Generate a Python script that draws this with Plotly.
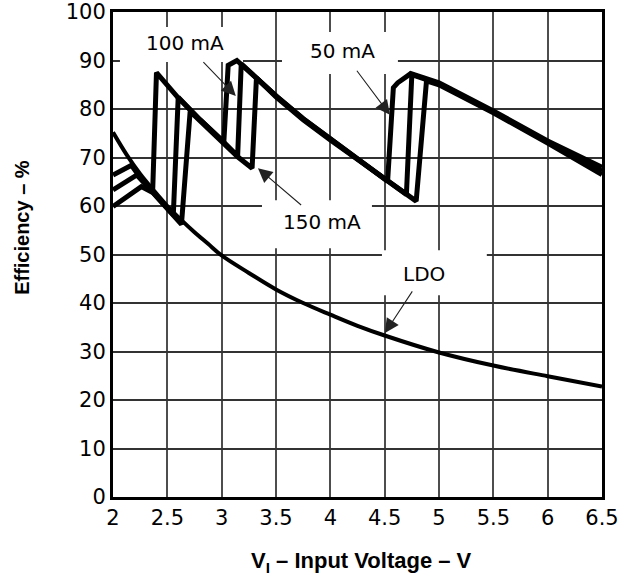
import plotly.graph_objects as go

# ---- data ----
v_50 = [2.0, 2.17, 2.26, 2.365, 2.40, 2.6, 2.8, 3.0, 3.02, 3.06, 3.14, 3.3, 3.5, 3.75, 4.0, 4.25,
        4.527, 4.58, 4.62, 4.74, 5.0, 5.5, 6.0, 6.5]
e_50 = [66.4, 68.4, 65.6, 63.0, 87.5, 82.3, 77.8, 73.6, 73.2, 89.0, 90.0, 86.8, 82.7, 78.0, 73.8, 69.8,
        65.1, 84.4, 85.4, 87.3, 85.4, 79.6, 73.4, 68.0]

v_100 = [2.0, 2.22, 2.365, 2.555, 2.60, 2.8, 3.0, 3.147, 3.18, 3.3, 3.5, 3.75, 4.0, 4.25, 4.5,
         4.70, 4.75, 5.0, 5.5, 6.0, 6.5]
e_100 = [63.3, 66.4, 62.9, 58.2, 82.4, 77.8, 73.6, 70.3, 89.3, 86.8, 82.7, 78.0, 73.8, 69.8, 65.6,
         62.4, 87.1, 85.2, 79.4, 73.2, 67.2]

v_150 = [2.0, 2.26, 2.365, 2.555, 2.63, 2.71, 2.8, 3.0, 3.15, 3.28, 3.32, 3.5, 3.75, 4.0, 4.25, 4.5,
         4.79, 4.885, 5.0, 5.5, 6.0, 6.5]
e_150 = [59.9, 64.0, 62.8, 58.1, 56.2, 79.5, 77.6, 73.4, 70.1, 67.8, 86.4, 82.5, 77.8, 73.6, 69.6, 65.4,
         61.0, 85.8, 85.0, 79.2, 73.0, 66.5]

v_ldo = [2.0, 2.125, 2.25, 2.375, 2.5, 2.625, 2.75, 2.875, 3.0, 3.25, 3.5, 3.75, 4.0, 4.25, 4.5,
         5.0, 5.5, 6.0, 6.5]
e_ldo = [75.2, 70.6, 66.6, 63.2, 60.0, 57.2, 54.6, 52.2, 49.8, 46.2, 42.8, 40.0, 37.6, 35.3, 33.3,
         29.8, 27.1, 24.9, 22.8]

x_ticks = [2, 2.5, 3, 3.5, 4, 4.5, 5, 5.5, 6, 6.5]
x_tick_text = ["2", "2.5", "3", "3.5", "4", "4.5", "5", "5.5", "6", "6.5"]
y_ticks = [0, 10, 20, 30, 40, 50, 60, 70, 80, 90, 100]

label_text = ["100 mA", "50 mA", "150 mA", "LDO"]
label_pos = [(2.66, 93.7), (4.11, 91.9), (3.92, 56.6), (4.86, 46.0)]
label_pad = [7, 7, 5, 5]
label_box = [(2.064, 3.196, 89.7, 96.9), (3.555, 4.622, 87.2, 95.9),
             (3.371, 4.383, 51.3, 61.2), (4.475, 5.44, 41.6, 50.9)]
arrow_tip = [(3.13, 82.7), (4.548, 78.8), (3.334, 67.8), (4.502, 33.8)]

fig = go.Figure()

for v, e, nm in [(v_150, e_150, "150 mA"), (v_100, e_100, "100 mA"), (v_50, e_50, "50 mA")]:
    fig.add_trace(go.Scatter(x=v, y=e, mode="lines", name=nm, showlegend=False,
                             line=dict(color="black", width=5)))
fig.add_trace(go.Scatter(x=v_ldo, y=e_ldo, mode="lines", name="LDO", showlegend=False,
                         line=dict(color="black", width=4, shape="spline")))

shapes = []
for (x0, x1, y0, y1) in label_box:
    shapes.append(dict(type="rect", xref="x", yref="y", x0=x0, x1=x1, y0=y0, y1=y1,
                       fillcolor="white", line=dict(width=0), layer="between"))

annotations = []
for t, (lx, ly), (tx, ty), pad in zip(label_text, label_pos, arrow_tip, label_pad):
    annotations.append(dict(x=tx, y=ty, xref="x", yref="y", ax=lx, ay=ly, axref="x", ayref="y",
                            text=t, showarrow=True, arrowhead=2, arrowsize=2.6, arrowwidth=1.1,
                            arrowcolor="#222", borderpad=pad,
                            font=dict(family="DejaVu Sans", size=20, color="black")))
annotations.append(dict(x=0.509, y=-0.134, xref="paper", yref="paper",
                        xanchor="center", yanchor="middle",
                        text="<b>V<sub>I</sub> – Input Voltage – V</b>", showarrow=False,
                        font=dict(family="Liberation Sans, Arial", size=22, color="black")))
annotations.append(dict(x=-0.186, y=0.555, xref="paper", yref="paper", textangle=-90,
                        xanchor="center", yanchor="middle",
                        text="<b>Efficiency – %</b>", showarrow=False,
                        font=dict(family="Liberation Sans, Arial", size=20, color="black")))

fig.update_layout(
    width=624, height=576,
    margin=dict(l=113, r=22, t=12, b=79, autoexpand=False),
    paper_bgcolor="white", plot_bgcolor="white",
    shapes=shapes, annotations=annotations,
    showlegend=False,
)
fig.update_xaxes(range=[2, 6.5], tickvals=x_ticks, ticktext=x_tick_text, automargin=False,
                 showgrid=True, gridcolor="#4d4d4d", gridwidth=2,
                 showline=True, linecolor="black", linewidth=3, mirror=True,
                 ticks="", zeroline=False, ticklabeloverflow="allow",
                 tickfont=dict(family="DejaVu Sans", size=21, color="black"))
fig.update_yaxes(range=[0, 100], tickvals=y_ticks, automargin=False,
                 showgrid=True, gridcolor="#333333", gridwidth=2,
                 showline=True, linecolor="black", linewidth=3, mirror=True,
                 ticks="", zeroline=False, ticklabeloverflow="allow",
                 tickfont=dict(family="DejaVu Sans", size=21, color="black"))

# remove the default 8 px page margin so the figure fills the window exactly
fig.write_html("out.html", config={"displayModeBar": False},
               post_script="document.body.style.margin='0';")
